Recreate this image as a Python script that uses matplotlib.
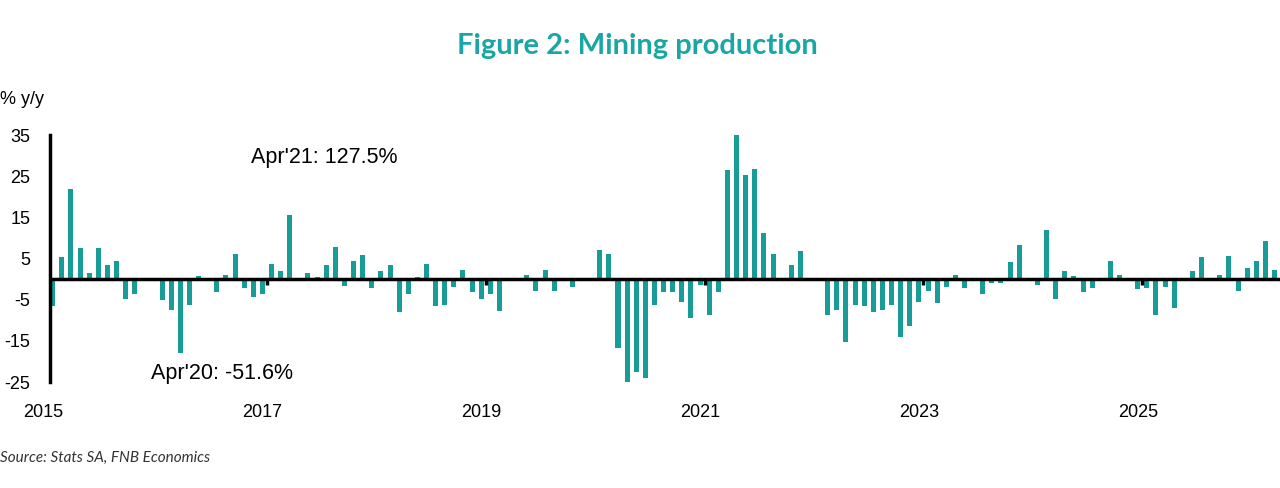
import matplotlib
matplotlib.use("Agg")
import matplotlib.pyplot as plt
import numpy as np

values = [
    -6.5, 5.3, 22.0, 7.5, 1.5, 7.5, 3.5, 4.5, -4.8, -3.6, 0.0, 0.0,
    -5.1, -7.4, -18.0, -6.2, 0.8, 0.0, -3.2, 1.1, 6.1, -2.2, -4.4, -3.6,
    3.8, 1.9, 15.7, 0.0, 1.5, 0.5, 3.5, 7.8, -1.7, 4.5, 6.0, -2.1,
    1.9, 3.5, -8.0, -3.6, 0.5, 3.8, -6.5, -6.2, -1.8, 2.3, -3.2, -4.8,
    -3.6, -7.8, 0.0, 0.0, 1.1, -2.8, 2.3, -2.8, 0.0, -1.8, 0.0, 0.0,
    7.2, 6.1, -16.6, -51.6, -22.6, -24.0, -6.2, -3.2, -3.2, -5.5, -9.5, -1.5,
    -8.8, -3.2, 26.5, 127.5, 25.3, 26.9, 11.2, 6.1, 0.0, 3.5, 6.8, 0.0,
    0.0, -8.8, -7.4, -15.2, -6.2, -6.5, -8.0, -7.4, -6.2, -14.0, -11.4, -5.5,
    -2.8, -5.8, -1.8, 1.1, -2.1, 0.0, -3.6, -1.0, -1.0, 4.2, 8.3, 0.0,
    -1.5, 12.0, -4.7, 1.9, 0.8, -3.2, -2.1, 0.0, 4.5, 1.1, 0.0, -2.4,
    -2.1, -8.8, -1.8, -7.0, 0.4, 1.9, 5.3, 0.0, 1.1, 5.7, -2.8, 2.7,
    4.5, 9.4, 2.3,
]
years = ["2015", "2017", "2019", "2021", "2023", "2025"]
yticks = [-25, -15, -5, 5, 15, 25, 35]

teal = "#179c98"
fig = plt.figure(figsize=(12.8, 4.88), dpi=100)
ax = fig.add_axes([0.039, 0.217, 0.961, 0.506])
x = np.arange(len(values))
ax.bar(x, values, width=0.55, color=teal, zorder=2)
ax.set_ylim(-25, 35)
ax.set_xlim(-0.3, 134.6)
ax.axhline(0, color="black", lw=2.5, zorder=3)
for k in range(1, 6):
    ax.vlines(24 * k - 0.5, -1.5, 0, color="black", lw=2.5, zorder=3)
ax.set_yticks(yticks)
ax.set_yticklabels([str(t) for t in yticks], fontsize=13, fontfamily="Liberation Sans")
ax.tick_params(axis="y", length=0, pad=14)
ax.set_xticks([])
for i, yl in enumerate(years):
    ax.text(24 * i - 1, -32.5, yl, ha="center", va="center", fontsize=13,
            fontfamily="Liberation Sans")
for s in ["top", "right", "bottom"]:
    ax.spines[s].set_visible(False)
ax.spines["left"].set_linewidth(2.5)
ax.spines["left"].set_bounds(-25, 35)

ax.text(21.7, 29.5, "Apr'21: 127.5%", fontsize=15.5, fontfamily="Liberation Sans", va="center")
ax.text(10.8, -23.0, "Apr'20: -51.6%", fontsize=15.5, fontfamily="Liberation Sans", va="center")

fig.text(0.498, 0.905, "Figure 2: Mining production", ha="center", va="center",
         fontsize=21, fontweight="bold", color="#1aa6a6", fontfamily="Lato")
fig.text(0.0, 0.797, "% y/y", ha="left", va="center", fontsize=13, fontfamily="Liberation Sans")
fig.text(0.0, 0.062, "Source: Stats SA, FNB Economics", ha="left", va="center",
         fontsize=11, style="italic", color="#333333", fontfamily="Lato")
fig.savefig("out.png", dpi=100)
